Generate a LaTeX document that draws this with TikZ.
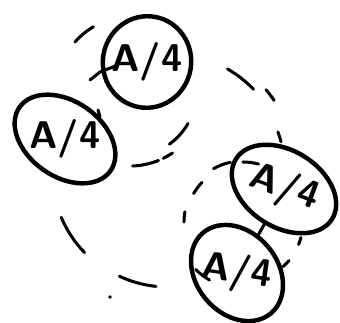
\documentclass[tikz,border=0pt]{standalone}
\usepackage{fontspec}
\usepackage{tikz}
\usetikzlibrary{shapes.geometric}

\begin{document}
\begin{tikzpicture}[x=0.03cm, y=0.03cm, line cap=round, line join=round]
    % Styles
    \tikzset{
        blob/.style={ellipse, draw, line width=3.8pt, inner sep=-16pt,
            font=\fontsize{33}{33}\sffamily\bfseries\selectfont},
        stroke/.style={line width=2.6pt},
        sketchdash/.style={line width=2.6pt}
    }
    \newcommand{\tilted}[1]{\rotatebox[origin=c]{#1}{A/4}}
    \useasboundingbox (0,0) rectangle (340,322);

    % --- Ellipses with their labels ---
    \node[blob, minimum width=2.75cm, minimum height=2.65cm, rotate=80] (tp) at (147,260) {\tilted{-80}};
    \node[blob, minimum width=3.33cm, minimum height=2.26cm, rotate=-35] (lf) at (65,183) {\tilted{35}};
    \node[blob, minimum width=3.40cm, minimum height=2.30cm, rotate=-32] (rt) at (284,133) {\tilted{12}};
    \node[blob, minimum width=3.16cm, minimum height=2.44cm, rotate=-50] (bt) at (237,49) {\tilted{42}};

    % --- Link between the right pair ---
    \draw[stroke] (rt) -- (bt);

    % --- Dashed circle round the whole group ---
    \coordinate (C1) at (168,150);
    \foreach \a/\b/\r in {60/44/119, 40/34/128, 20/15/117, 203/224/116, 245/264/115}
        \draw[sketchdash] (C1) ++(\a:\r) arc (\a:\b:\r);
    \fill (110,25) circle (1.8);

    % --- Dashed circle round the top ellipse ---
    \coordinate (C2) at (130,232);
    \foreach \a/\b/\r in {139/120/73, -30/-54/67, -88/-68/76, -64/-56/76}
        \draw[sketchdash] (C2) ++(\a:\r) arc (\a:\b:\r);

    % --- Dashed circle round the right pair ---
    \coordinate (C3) at (243,100);
    \foreach \a/\b/\r in {119/102/61, 90/75/60, 136/150/57, 170/180/59, 225/240/67, -40/-48/60, -15/-22/60}
        \draw[sketchdash] (C3) ++(\a:\r) arc (\a:\b:\r);

    % --- Loose strokes ---
    \draw[stroke] (90,242) -- (100,250) -- (118,257);
    \draw[stroke] (98,212) -- (100,205);
\end{tikzpicture}
\end{document}
